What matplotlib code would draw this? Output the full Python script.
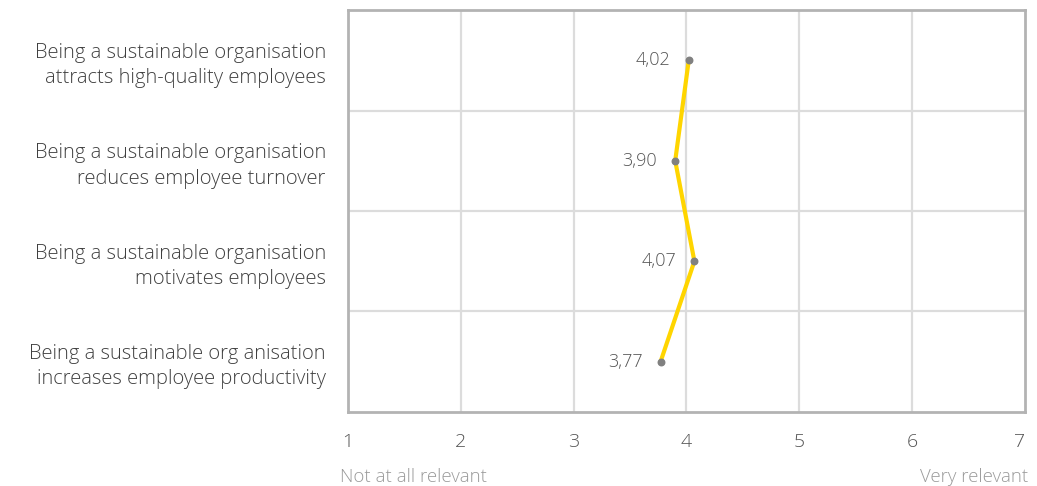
import matplotlib
matplotlib.use("Agg")
import matplotlib.pyplot as plt

categories = [
    "Being a sustainable organisation\nattracts high-quality employees",
    "Being a sustainable organisation\nreduces employee turnover",
    "Being a sustainable organisation\nmotivates employees",
    "Being a sustainable org anisation\nincreases employee productivity",
]
values = [4.02, 3.90, 4.07, 3.77]
value_labels = ["4,02", "3,90", "4,07", "3,77"]
x_ticks = [1, 2, 3, 4, 5, 6, 7]

plt.rcParams['font.family'] = ['Open Sans', 'DejaVu Sans']

fig = plt.figure(figsize=(10.37, 4.86), dpi=100)
ax = fig.add_axes([0.3356, 0.1523, 0.6528, 0.8271])

ypos = list(range(len(categories)))
ax.plot(values, ypos, color="#ffd500", lw=3, zorder=3)
ax.scatter(values, ypos, color="#808080", s=22, zorder=4)
for v, y, lab in zip(values, ypos, value_labels):
    ax.annotate(lab, (v, y), xytext=(-13, 0), textcoords="offset points",
                ha="right", va="center", fontsize=13, color="#555555",
                fontweight="light")

ax.set_xlim(1, 7)
ax.set_ylim(len(categories) - 0.5, -0.5)

ax.set_xticks(x_ticks)
ax.set_xticklabels([str(t) for t in x_ticks], fontsize=14, color="#555555",
                   fontweight="light")
ax.get_xticklabels()[-1].set_ha("right")
ax.set_yticks(ypos)
ax.set_yticklabels(categories, fontsize=14.5, color="#404040", linespacing=1.35,
                   fontweight="light")
ax.tick_params(axis="x", length=0, pad=15)
ax.tick_params(axis="y", length=0, pad=16)

# grid: vertical at each x tick, horizontal between categories
for t in x_ticks[1:-1]:
    ax.axvline(t, color="#dcdcdc", lw=1.6, zorder=1)
for b in [0.5, 1.5, 2.5]:
    ax.axhline(b, color="#dcdcdc", lw=1.6, zorder=1)

for s in ax.spines.values():
    s.set_color("#b3b3b3")
    s.set_linewidth(2)

fig.text(340 / 1037, 1 - 477 / 486, "Not at all relevant", ha="left", va="center",
         fontsize=13.4, color="#9a9a9a", fontweight="light")
fig.text(1028 / 1037, 1 - 477 / 486, "Very relevant", ha="right", va="center",
         fontsize=13.4, color="#9a9a9a", fontweight="light")

fig.savefig("out.png", dpi=100)
